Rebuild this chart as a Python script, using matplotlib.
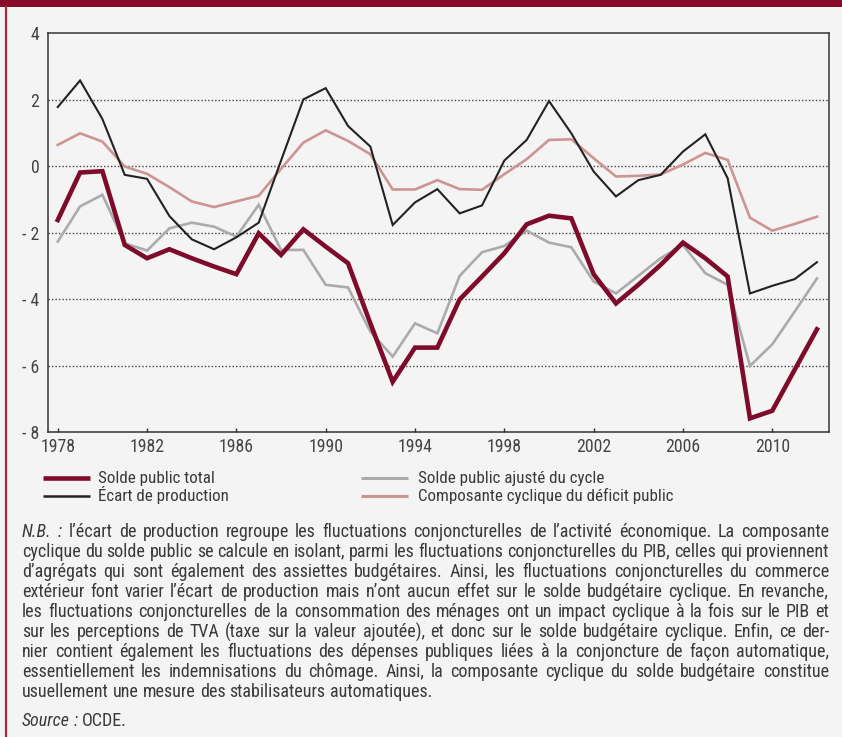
import math
import matplotlib
matplotlib.use('Agg')
import matplotlib.pyplot as plt
from matplotlib import font_manager
from matplotlib.lines import Line2D
from matplotlib.patches import Rectangle

# ---------------- data ----------------
years = list(range(1978, 2013))
solde_total = [-1.62, -0.19, -0.15, -2.37, -2.77, -2.50, -2.77, -3.02, -3.25, -2.02,
               -2.67, -1.90, -2.42, -2.92, -4.73, -6.49, -5.46, -5.46, -4.01, -3.32,
               -2.62, -1.75, -1.49, -1.57, -3.25, -4.13, -3.57, -2.97, -2.30, -2.77,
               -3.32, -7.59, -7.36, -6.13, -4.91]
ecart_production = [1.78, 2.58, 1.42, -0.26, -0.38, -1.50, -2.20, -2.50, -2.14, -1.70,
                    0.17, 2.01, 2.35, 1.21, 0.59, -1.77, -1.09, -0.69, -1.42, -1.18,
                    0.17, 0.79, 1.96, 0.99, -0.16, -0.91, -0.42, -0.26, 0.44, 0.96,
                    -0.36, -3.83, -3.60, -3.40, -2.89]
solde_ajuste = [-2.27, -1.21, -0.86, -2.32, -2.54, -1.87, -1.70, -1.82, -2.12, -1.16,
                -2.52, -2.52, -3.57, -3.65, -4.98, -5.73, -4.73, -5.03, -3.30, -2.59,
                -2.40, -1.94, -2.30, -2.44, -3.47, -3.83, -3.30, -2.77, -2.37, -3.22,
                -3.57, -6.01, -5.36, -4.38, -3.38]
composante_cyclique = [0.64, 0.99, 0.74, -0.01, -0.23, -0.63, -1.06, -1.23, -1.06, -0.89,
                       -0.08, 0.71, 1.08, 0.76, 0.36, -0.70, -0.70, -0.42, -0.69, -0.71,
                       -0.24, 0.21, 0.79, 0.81, 0.24, -0.31, -0.29, -0.25, 0.05, 0.40,
                       0.19, -1.55, -1.94, -1.74, -1.52]
xtick_years = [1978, 1982, 1986, 1990, 1994, 1998, 2002, 2006, 2010]
ytick_values = [4, 2, 0, -2, -4, -6, -8]
ytick_labels = ['4', '2', '0', '- 2', '- 4', '- 6', '- 8']
grid_values = [2, 0, -2, -4, -6]
legend_labels = ['Solde public total', 'Écart de production',
                 'Solde public ajusté du cycle', 'Composante cyclique du déficit public']

note_lines = [
    [('N.B.', True), (':', True), ('l’écart de production regroupe les fluctuations conjoncturelles de l’activité économique. La composante', False)],
    [('cyclique du solde public se calcule en isolant, parmi les fluctuations conjoncturelles du PIB, celles qui proviennent', False)],
    [('d’agrégats qui sont également des assiettes budgétaires. Ainsi, les fluctuations conjoncturelles du commerce', False)],
    [('extérieur font varier l’écart de production mais n’ont aucun effet sur le solde budgétaire cyclique. En revanche,', False)],
    [('les fluctuations conjoncturelles de la consommation des ménages ont un impact cyclique à la fois sur le PIB et', False)],
    [('sur les perceptions de TVA (taxe sur la valeur ajoutée), et donc sur le solde budgétaire cyclique. Enfin, ce der-', False)],
    [('nier contient également les fluctuations des dépenses publiques liées à la conjoncture de façon automatique,', False)],
    [('essentiellement les indemnisations du chômage. Ainsi, la composante cyclique du solde budgétaire constitue', False)],
    [('usuellement une mesure des stabilisateurs automatiques.', False)],
]
source_parts = [('Source', True), (':', True), ('OCDE.', False)]

# ---------------- style ----------------
BG = '#f4f4f4'
MAROON = '#7e0b2c'
BLACK = '#222222'
GRAY = '#ababad'
PINK = '#cc9593'
TXT = '#3a3a3a'

available = {f.name for f in font_manager.fontManager.ttflist}
FONT = 'DejaVu Sans'
for cand in ['Liberation Sans Narrow', 'DejaVu Sans Condensed', 'Roboto Condensed',
             'Open Sans Condensed', 'Noto Sans']:
    if cand in available:
        FONT = cand
        break
plt.rcParams['font.family'] = [FONT, 'DejaVu Sans']

W, H = 842, 737
fig = plt.figure(figsize=(W / 100, H / 100), dpi=100, facecolor=BG)


def fx(x):
    return x / W


def fy(y):
    return 1 - y / H


renderer = fig.canvas.get_renderer()


def measure(s, italic, fs):
    t = fig.text(0, 0, s, fontsize=fs, style='italic' if italic else 'normal')
    w = t.get_window_extent(renderer).width
    t.remove()
    return w


def place_text(x_px, base_px, s, fs, italic=False, color=TXT):
    """Place text with its baseline on integer pixel row base_px (from top),
    compensating the rounding of the glyph bitmap so all words line up."""
    t = fig.text(fx(x_px), fy(base_px), s, fontsize=fs, color=color, ha='left',
                 va='baseline', style='italic' if italic else 'normal')
    try:
        _, h, d = renderer.get_text_width_height_descent(s, t.get_fontproperties(), ismath=False)
        yb = base_px + math.floor(h) - math.floor(h - d) - d
        t.set_y(fy(yb))
    except Exception:
        pass
    return t


# font sizes calibrated on reference text widths
tick_fs = 11.0 * 35.0 / max(measure('1978', False, 11.0), 1)
leg_fs = 11.0 * 117.0 / max(measure('Solde public total', False, 11.0), 1)

# frame decorations
fig.add_artist(Rectangle((0, fy(7.3)), 1, 7.3 / H, transform=fig.transFigure,
                         facecolor='#870a2b', edgecolor='none'))
fig.add_artist(Line2D([fx(5.6), fx(5.6)], [0, fy(7)], lw=1.6, color='#a8253f',
                      transform=fig.transFigure))

# ---------------- axes ----------------
ax = fig.add_axes([fx(47.7), fy(432), fx(829) - fx(47.7), fy(33.3) - fy(432)])
ax.set_facecolor(BG)
for v in grid_values:
    ax.axhline(v, color='#444444', lw=1.0, ls=(0, (1, 1.5)), zorder=1)

ax.plot(years, composante_cyclique, color=PINK, lw=1.9, zorder=2, solid_joinstyle='miter')
ax.plot(years, solde_ajuste, color=GRAY, lw=1.9, zorder=3, solid_joinstyle='miter')
ax.plot(years, ecart_production, color=BLACK, lw=1.5, zorder=4, solid_joinstyle='miter')
ax.plot(years, solde_total, color=MAROON, lw=3.3, zorder=5, solid_joinstyle='miter')

ax.set_xlim(1977.55, 2012.54)
ax.set_ylim(-8, 4)
ax.set_xticks(xtick_years)
ax.set_xticklabels([str(y) for y in xtick_years])
ax.set_yticks(ytick_values)
ax.set_yticklabels(ytick_labels)
for s in ax.spines.values():
    s.set_color('#333333')
    s.set_linewidth(1.1)
ax.tick_params(axis='x', direction='in', length=3, width=1, color='#333333', pad=4,
               labelsize=tick_fs, labelcolor='#444444')
ax.tick_params(axis='y', length=0, pad=6, labelsize=tick_fs, labelcolor='#444444')

# ---------------- legend (manual) ----------------
legend_specs = [
    (legend_labels[0], MAROON, 3.3, 43, 90, 98, 478, 483),
    (legend_labels[1], BLACK, 1.8, 43, 90, 98, 496, 501),
    (legend_labels[2], GRAY, 2.2, 361, 408, 418, 478, 483),
    (legend_labels[3], PINK, 2.2, 361, 408, 418, 496, 501),
]
for lab, col, lw, x0, x1, xt, yy, yb in legend_specs:
    fig.add_artist(Line2D([fx(x0), fx(x1)], [fy(yy), fy(yy)], lw=lw, color=col,
                          transform=fig.transFigure, solid_capstyle='butt'))
    place_text(xt, yb, lab, leg_fs)

# ---------------- justified note ----------------


def words_of(parts):
    out = []
    for txt, it in parts:
        for w in txt.split(' '):
            out.append((w, it))
    return out


LEFT, RIGHT = 22, 829
fs = 11.0
space = measure('x x', False, fs) - measure('xx', False, fs)
maxnat = 0
for parts in note_lines[:-1]:
    ws = words_of(parts)
    nat = sum(measure(w, it, fs) for w, it in ws) + space * (len(ws) - 1)
    maxnat = max(maxnat, nat)
fs = fs * (RIGHT - LEFT) / maxnat * 0.995
space = measure('x x', False, fs) - measure('xx', False, fs)


def draw_line(parts, ybase, justify):
    ws = words_of(parts)
    widths = [measure(w, it, fs) for w, it in ws]
    if justify and len(ws) > 1:
        gap = ((RIGHT - LEFT) - sum(widths)) / (len(ws) - 1)
    else:
        gap = space
    x = LEFT
    for (w, it), wd in zip(ws, widths):
        place_text(x, ybase, w, fs, italic=it)
        x += wd + gap


for i, parts in enumerate(note_lines):
    draw_line(parts, 537 + 20 * i, justify=(i < len(note_lines) - 1))
draw_line(source_parts, 726, justify=False)

fig.savefig('out.png', dpi=100, facecolor=BG)
